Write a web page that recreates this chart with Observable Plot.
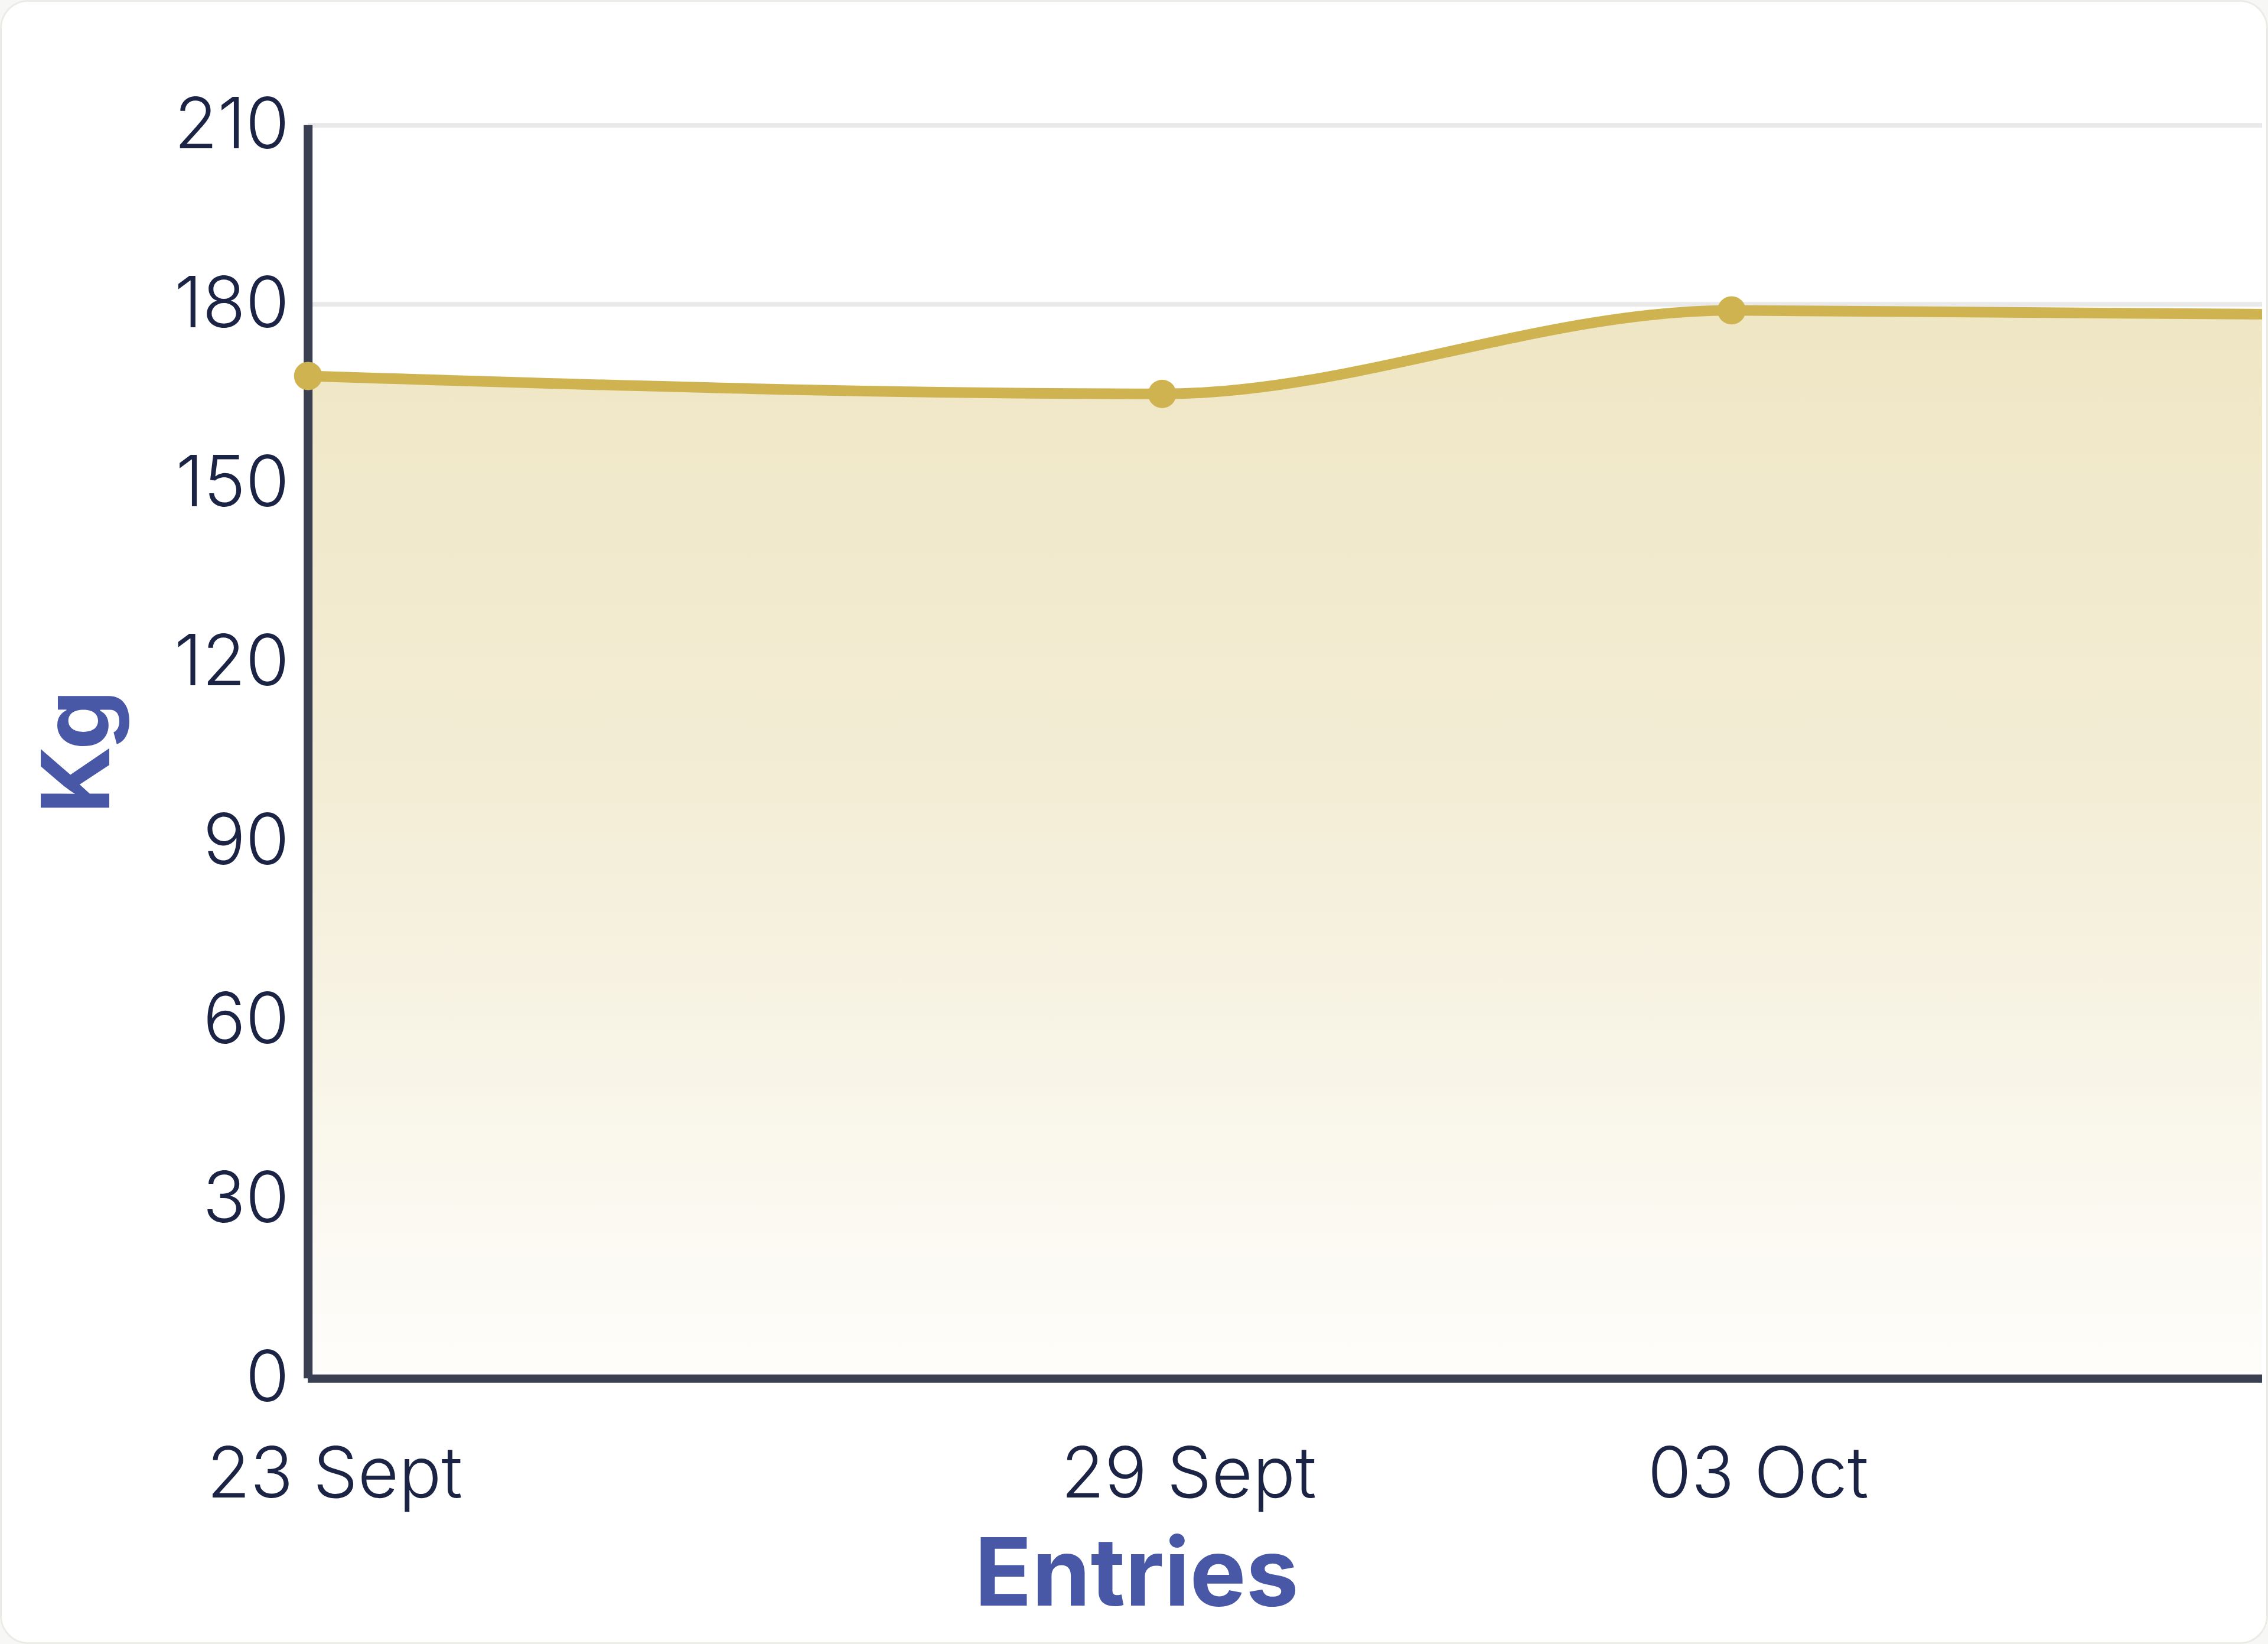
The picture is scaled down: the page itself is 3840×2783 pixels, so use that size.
<!DOCTYPE html>
<html>
<head>
<meta charset="utf-8">
<script src="https://cdn.jsdelivr.net/npm/d3@7"></script>
<script src="https://cdn.jsdelivr.net/npm/@observablehq/plot@0.6"></script>
<style>
  html, body { margin: 0; padding: 0; background: #f7f7f5; }
  #card {
    position: relative; width: 3840px; height: 2783px; box-sizing: border-box;
    background: #ffffff; border: 3px solid #ebebe8; border-radius: 48px; overflow: hidden;
  }
  #card svg { position: absolute; left: -3px; top: -3px; }
  #card svg text { font-variant-numeric: proportional-nums; font-feature-settings: "pnum" 1, "tnum" 0; }
</style>
</head>
<body>
<div id="card"></div>
<script>
// ---- data ----
const dates = ["2023-09-23", "2023-09-29", "2023-10-03", "2023-10-07"];
const weights = [168, 165, 179, 178.3];
const tickDates = ["2023-09-23", "2023-09-29", "2023-10-03"];
const tickLabels = ["23 Sept", "29 Sept", "03 Oct"];
const yTicks = [0, 30, 60, 90, 120, 150, 180, 210];
const xTitle = "Entries";
const yTitle = "Kg";

const parse = s => new Date(s + "T00:00:00");
const data = dates.map((d, i) => ({date: parse(d), kg: weights[i]}));
const ticks = tickDates.map(parse);
const labelOf = new Map(ticks.map((t, i) => [+t, tickLabels[i]]));

const lineColor = "#cfb351";
const axisColor = "#3a3f51";
const textColor = "#1b2444";
const titleColor = "#4858a6";
const fontFamily = "Inter, 'Noto Sans', sans-serif";

const plot = Plot.plot({
  width: 3840,
  height: 2783,
  marginLeft: 522,
  marginRight: 4,
  marginTop: 212,
  marginBottom: 446,
  style: {background: "transparent", fontFamily, color: textColor},
  x: {type: "time", domain: [parse("2023-09-23"), new Date("2023-10-06T17:30:00")]},
  y: {domain: [0, 210]},
  marks: [
    Plot.gridY(yTicks, {stroke: "#e9e9e9", strokeOpacity: 1, strokeWidth: 8}),
    Plot.areaY(data, {x: "date", y: "kg", curve: "monotone-x", fill: "url(#areaGrad)", clip: true}),
    Plot.lineY(data, {x: "date", y: "kg", curve: "monotone-x", stroke: lineColor, strokeWidth: 18, clip: true}),
    Plot.ruleY([0], {stroke: axisColor, strokeWidth: 14}),
    Plot.ruleX([data[0].date], {stroke: axisColor, strokeWidth: 15}),
    Plot.dot(data, {x: "date", y: "kg", r: 24, fill: lineColor, stroke: null}),
    Plot.axisY(yTicks, {
      tickSize: 0, tickPadding: 32, fontSize: 120, fontWeight: 300, fill: textColor, label: null
    }),
    Plot.axisX(ticks, {
      tickSize: 0, tickPadding: 116, fontSize: 120, fontWeight: 300, fill: textColor, dx: 45,
      tickFormat: d => labelOf.get(+d), label: null
    }),
    Plot.text([yTitle], {
      frameAnchor: "left", dx: -388, rotate: -90, textAnchor: "middle", lineAnchor: "middle",
      fontSize: 160, fontWeight: 700, fill: titleColor
    }),
    Plot.text([xTitle], {
      frameAnchor: "bottom", dx: -252, dy: 334, textAnchor: "middle", lineAnchor: "middle",
      fontSize: 160, fontWeight: 700, fill: titleColor
    })
  ]
});

// gradient for the area fill
const ns = "http://www.w3.org/2000/svg";
const defs = document.createElementNS(ns, "defs");
const grad = document.createElementNS(ns, "linearGradient");
grad.setAttribute("id", "areaGrad");
grad.setAttribute("x1", "0"); grad.setAttribute("y1", "0");
grad.setAttribute("x2", "0"); grad.setAttribute("y2", "1");
[["0", "#efe6c4"], ["0.45", "#f3edd6"], ["1", "#fefdfb"]].forEach(([o, c]) => {
  const s = document.createElementNS(ns, "stop");
  s.setAttribute("offset", o); s.setAttribute("stop-color", c);
  grad.appendChild(s);
});
defs.appendChild(grad);
plot.insertBefore(defs, plot.firstChild);

document.getElementById("card").appendChild(plot);
</script>
</body>
</html>
